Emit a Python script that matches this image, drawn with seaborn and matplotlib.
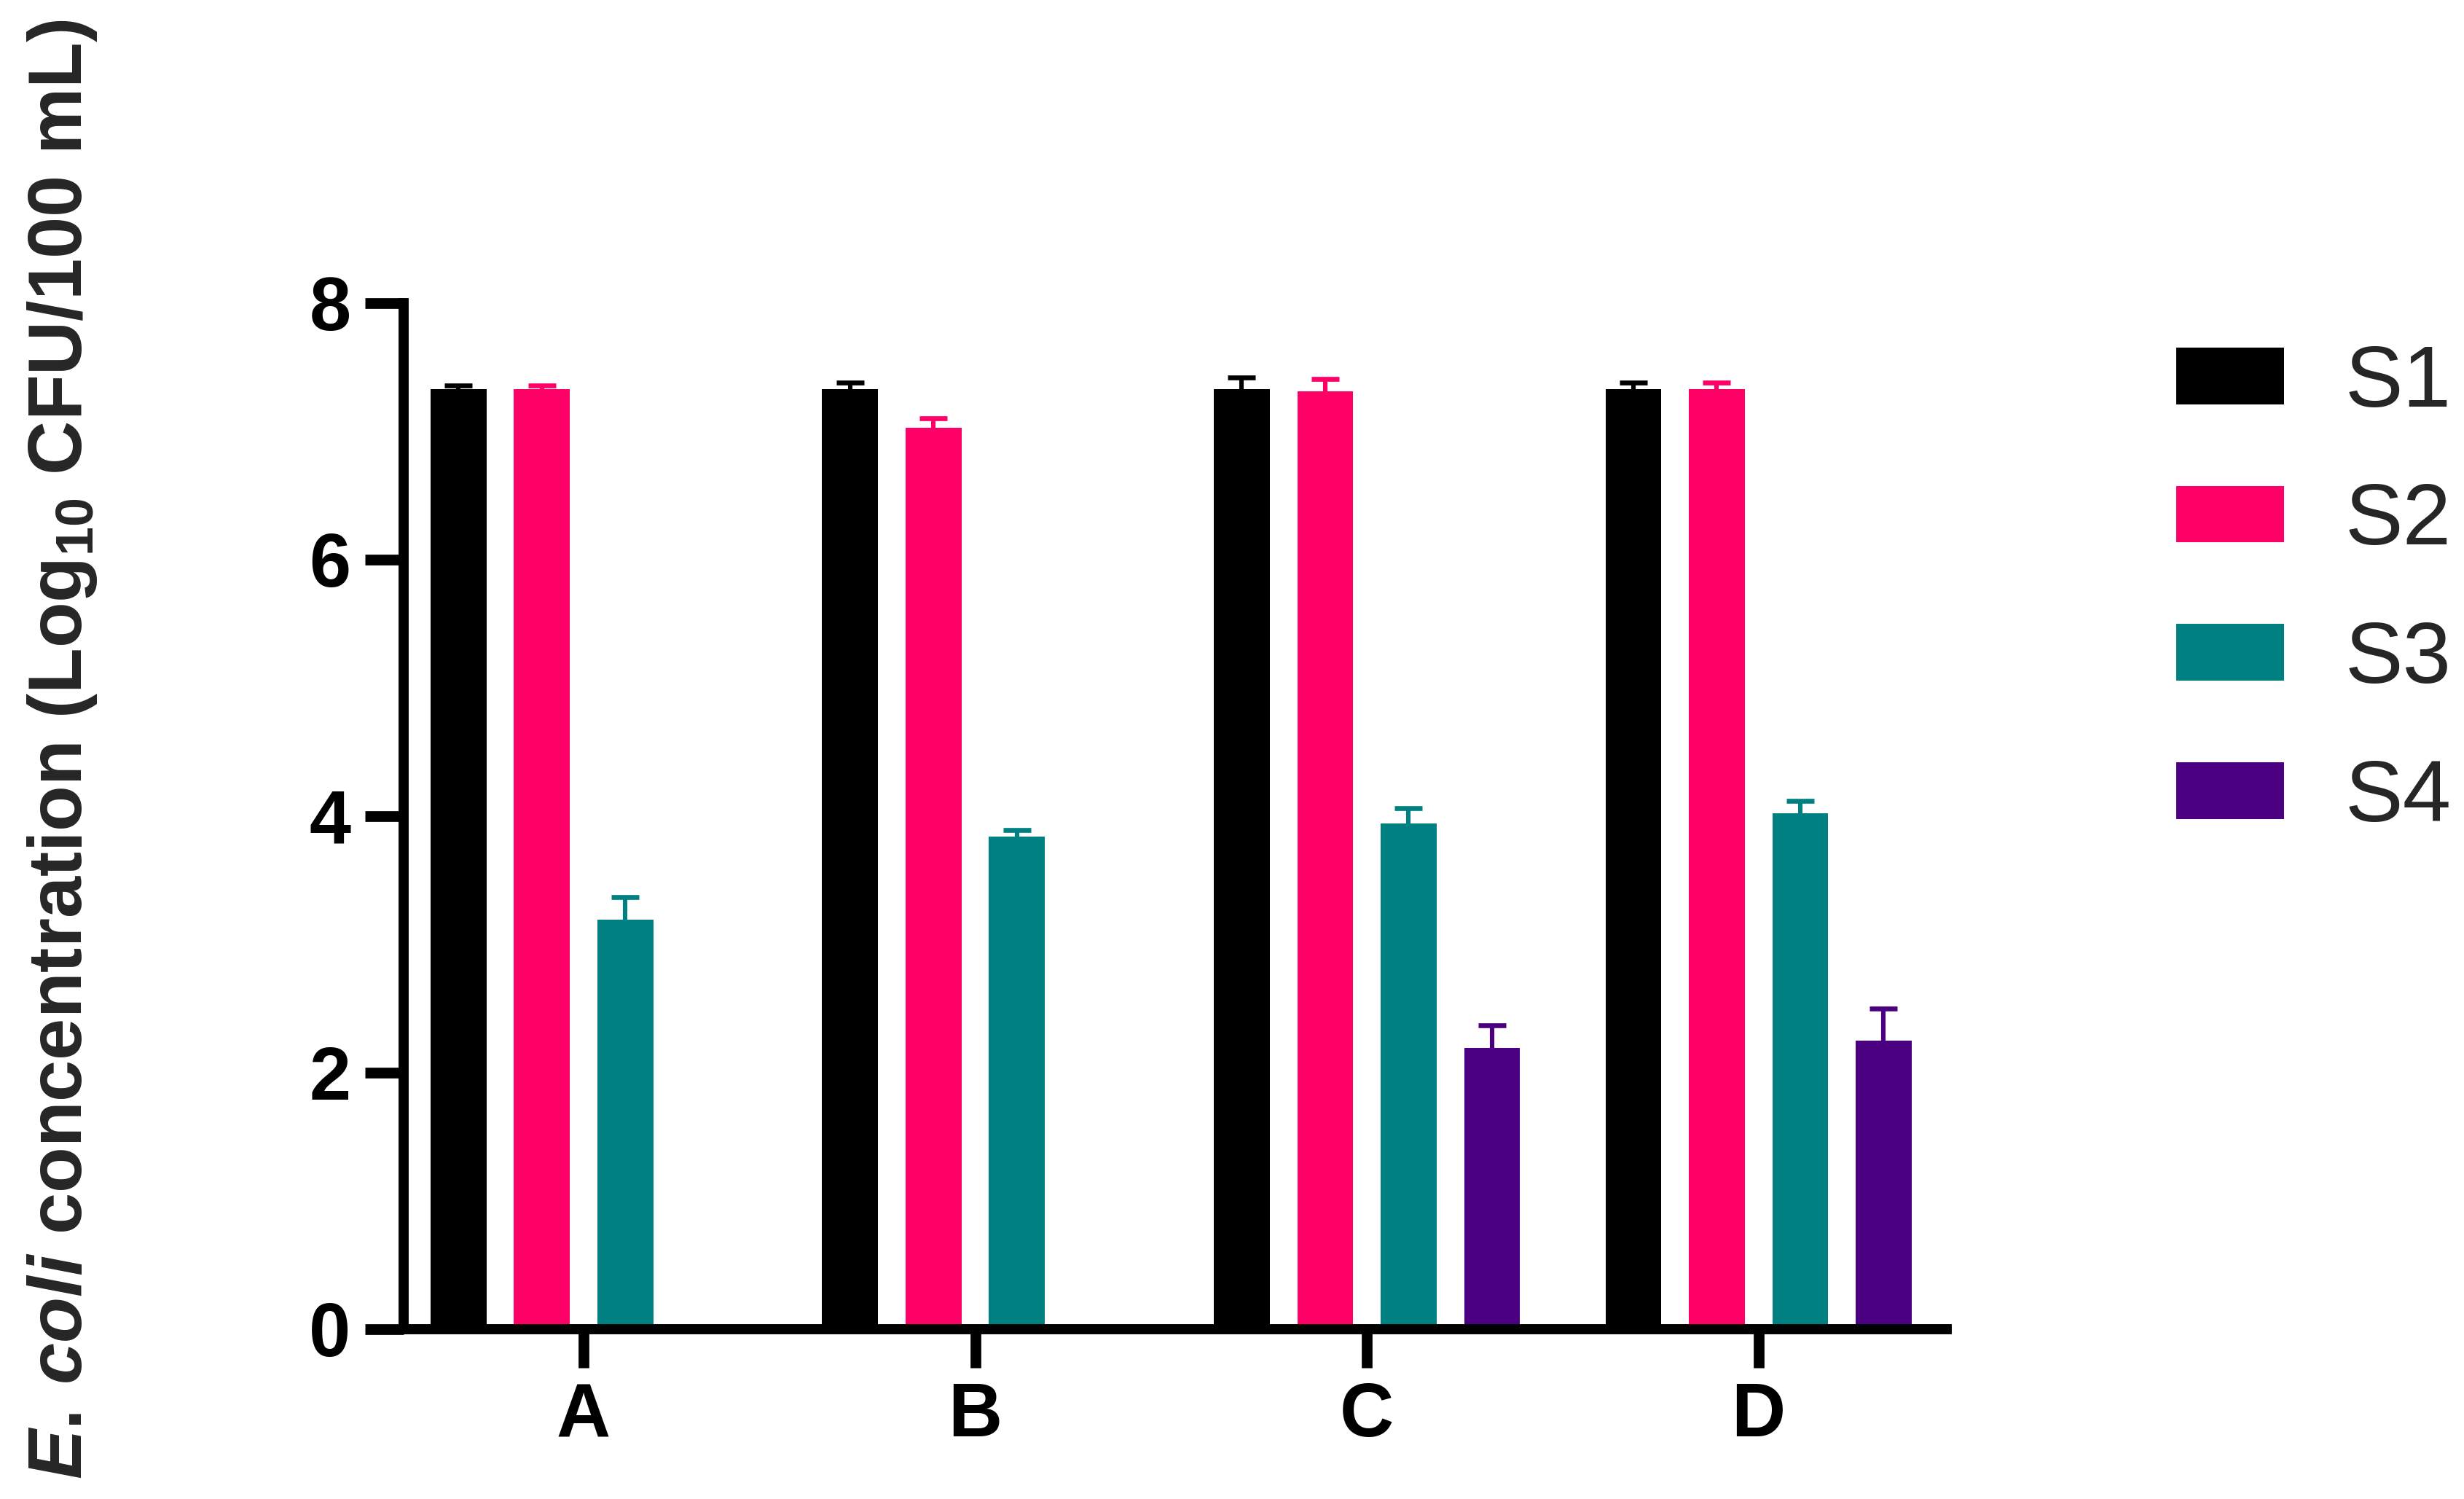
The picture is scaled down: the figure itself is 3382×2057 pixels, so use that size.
import numpy as np
import pandas as pd
import matplotlib
matplotlib.use("Agg")
import matplotlib.pyplot as plt
import seaborn as sns

groups = ["A", "B", "C", "D"]
series = ["S1", "S2", "S3", "S4"]
s1_mean = [7.33, 7.33, 7.33, 7.33]
s2_mean = [7.33, 7.03, 7.31, 7.33]
s3_mean = [3.19, 3.84, 3.94, 4.02]
s4_mean = [None, None, 2.19, 2.25]
s1_err = [0.03, 0.05, 0.09, 0.05]
s2_err = [0.03, 0.07, 0.10, 0.05]
s3_err = [0.18, 0.05, 0.12, 0.10]
s4_err = [None, None, 0.18, 0.25]
colors = ["#000000", "#FF0066", "#008080", "#4B0082"]

means = dict(zip(series, [s1_mean, s2_mean, s3_mean, s4_mean]))
errs = dict(zip(series, [s1_err, s2_err, s3_err, s4_err]))

rows = []
for s in series:
    for g, m in zip(groups, means[s]):
        if m is not None:
            rows.append({"group": g, "series": s, "value": m})
df = pd.DataFrame(rows)

sns.set_theme(style="ticks")
plt.rcParams["font.family"] = ["Liberation Sans", "DejaVu Sans"]
plt.rcParams["mathtext.fontset"] = "custom"
plt.rcParams["mathtext.rm"] = "Liberation Sans:bold"
plt.rcParams["mathtext.bf"] = "Liberation Sans:bold"
plt.rcParams["mathtext.it"] = "Liberation Sans:italic:bold"

fig = plt.figure(figsize=(16.91, 10.285), dpi=200)
ax = fig.add_axes([0.1637, 0.1133, 0.790 - 0.1637, 0.7978 - 0.1133])

sns.barplot(data=df, x="group", y="value", hue="series", order=groups,
            hue_order=series, palette=colors, width=0.852, gap=0.33,
            errorbar=None, linewidth=0, saturation=1, ax=ax)

# upper error bars, placed from the bars seaborn drew
for cont, s, c in zip(ax.containers, series, colors):
    for bar in cont:
        xc = bar.get_x() + bar.get_width() / 2
        gi = int(round(xc))
        e = errs[s][gi]
        if e is None:
            continue
        eb = ax.errorbar(xc, bar.get_height(), yerr=[[0], [e]], color=c,
                         elinewidth=2.2, capsize=7, capthick=2.4, zorder=1)
        eb[1][0].set_visible(False)  # no cap on the bar top

ax.set_ylim(0, 8)
ax.set_yticks([0, 2, 4, 6, 8])
ax.set_xlim(-0.46, 3.48)
ax.set_xlabel("")
ax.set_ylabel(r"$\mathit{E.\,coli}$ concentration (Log$_{10}$ CFU/100 mL)",
              fontsize=37, fontweight="bold")
ax.yaxis.set_label_coords(-0.197, 0.565)

sns.despine(ax=ax)
for sp in ["left", "bottom"]:
    ax.spines[sp].set_linewidth(5)
    ax.spines[sp].set_color("black")
ax.tick_params(axis="both", width=5.3, length=19, labelsize=37, pad=7,
               color="black", labelcolor="black")
for lab in ax.get_xticklabels() + ax.get_yticklabels():
    lab.set_fontweight("bold")

handles, labels = ax.get_legend_handles_labels()
ax.get_legend().remove()
fig.legend(handles, labels, loc="center left", bbox_to_anchor=(0.8832, 0.6053),
           frameon=False, fontsize=43, handlelength=1.24, handleheight=0.625,
           handletextpad=0.7, labelspacing=0.66, borderpad=0, borderaxespad=0)

fig.savefig("out.png", dpi=200)
